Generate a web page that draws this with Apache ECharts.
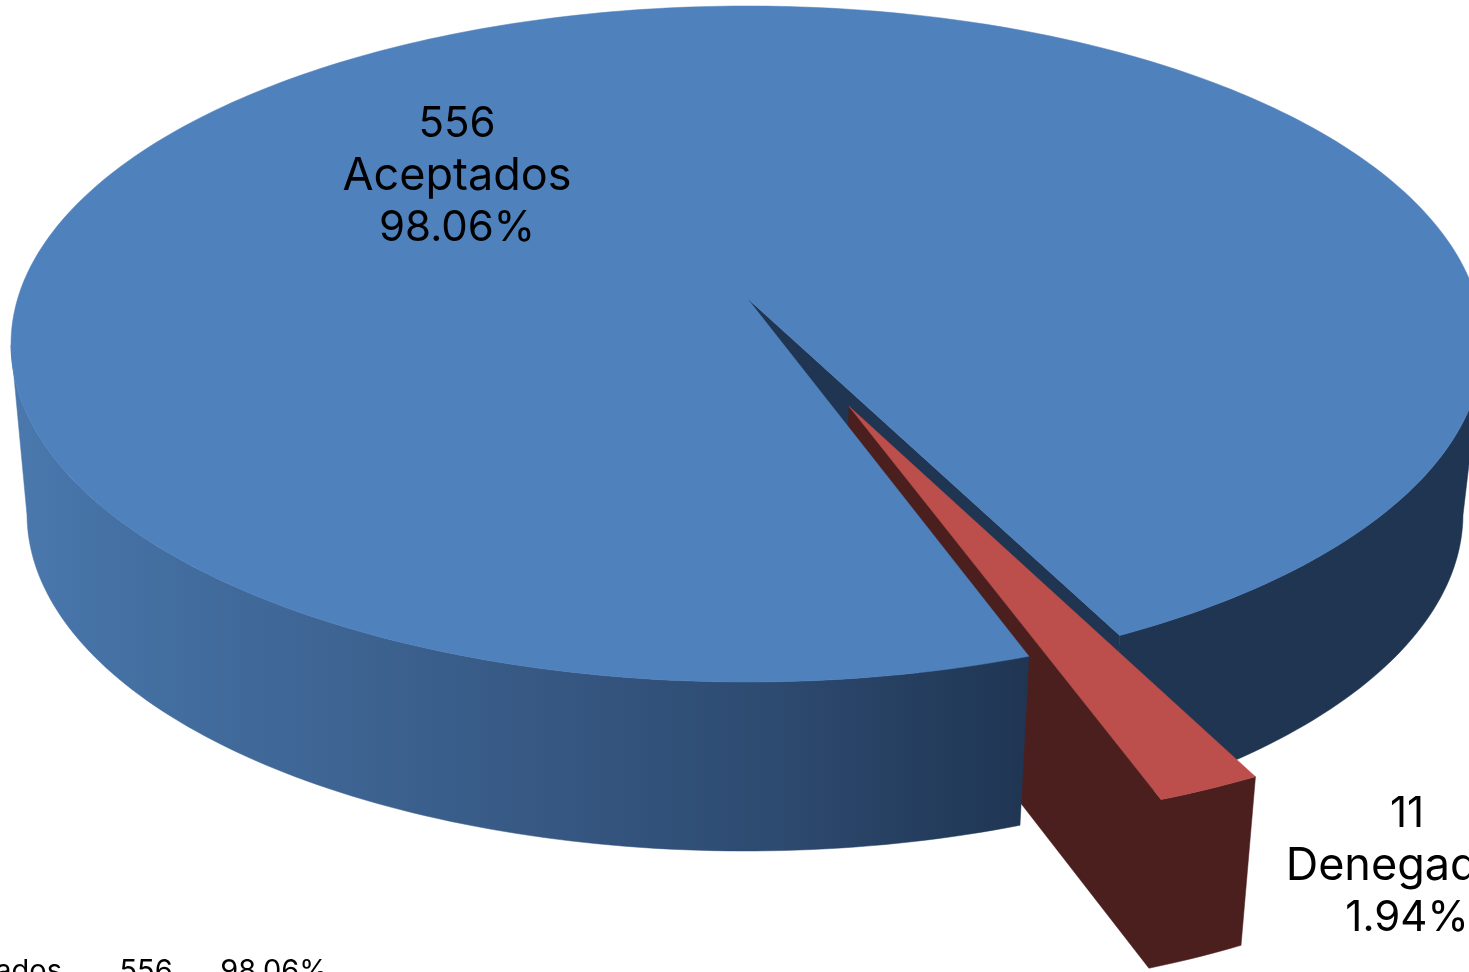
<!DOCTYPE html>
<html><head><meta charset="utf-8">
<style>html,body{margin:0;padding:0;background:#fff;overflow:hidden}#c{width:1469px;height:972px}</style>
<script src="https://cdn.jsdelivr.net/npm/echarts@6/dist/echarts.min.js"></script>
</head><body><div id="c"></div>
<script>
const categories = ['Aceptados', 'Denegados'];
const values = [556, 11];

const FONT = 'Inter, "Open Sans", sans-serif';
const topPlane = {cx: 747, cy: 344, rx: 736, ry: 338};
const bottomPlane = {cx: 745, cy: 514, rx: 718, ry: 337};
const K = -0.136;            // perspective: where the disc centre lands
const START = 70.3;          // rotation of first slice, degrees
const EXPLODE = 0.34;        // explosion of second slice
const total = values.reduce((a, b) => a + b, 0);
const pct = v => (v / total * 100).toFixed(2) + '%';

function proj(u, v, p) {
  const d = 1 + K * v;
  return [p.cx + p.rx * u * Math.sqrt(1 - K * K) / d, p.cy + p.ry * (v + K) / d];
}
function rim(a0, a1, p, off) {
  const n = Math.max(2, Math.ceil(Math.abs(a1 - a0))), pts = [];
  for (let i = 0; i <= n; i++) {
    const a = (a0 + (a1 - a0) * i / n) * Math.PI / 180;
    pts.push(proj(Math.cos(a) + off[0], Math.sin(a) + off[1], p));
  }
  return pts;
}
function poly(points, fill, z2) {
  return {type: 'polygon', z2, shape: {points}, style: {fill, stroke: fill, lineWidth: 0.5}};
}
function txt(text, x, y, size, align, vAlign, z2) {
  return {type: 'text', z2, style: {text, x, y, fill: '#000', font: `400 ${size}px ${FONT}`, align, verticalAlign: vAlign, lineHeight: 32}};
}
function label(v, name, x, y) {
  const num = {font: `400 42px ${FONT}`, fill: '#000', lineHeight: 52};
  const cat = {font: `400 45px ${FONT}`, fill: '#000', lineHeight: 52};
  return {type: 'text', z2: 10, style: {
    text: `{n|${v}}\n{c|${name}}\n{n|${pct(v)}}`, x, y, align: 'center', verticalAlign: 'middle',
    rich: {n: num, c: cat}
  }};
}

const wallGrad = new echarts.graphic.LinearGradient(20, 0, 1030, 0, [
  {offset: 0, color: '#4a78ad'},
  {offset: 0.1, color: '#4470a3'},
  {offset: 0.3, color: '#3e6594'},
  {offset: 0.55, color: '#355680'},
  {offset: 0.75, color: '#2d4a70'},
  {offset: 1, color: '#1f3552'}
], true);

function renderItem(params, api) {
  const i = params.dataIndex, v = api.value(0);
  const span = v / total * 360;
  const kids = [];
  if (i === 0) {
    const a0 = START, a1 = START + span;
    const o = [0, 0];
    kids.push(poly([proj(0, 0, topPlane), ...rim(a1, a1, topPlane, o).slice(0, 1),
                    ...rim(a1, a1, bottomPlane, o).slice(0, 1), proj(0, 0, bottomPlane)], '#1f3552', 1));
    kids.push(poly([...rim(a1, 368, topPlane, o), ...rim(368, a1, bottomPlane, o)], '#1f3552', 1));
    kids.push(poly([...rim(a0, 172, topPlane, o), ...rim(172, a0, bottomPlane, o)], wallGrad, 3));
    kids.push(poly([proj(0, 0, topPlane), ...rim(a0, a1, topPlane, o)], '#4f81bd', 4));
    kids.push(label(v, categories[i], 457, 176));
    // fragment of the data table at the bottom edge
    kids.push(txt(categories[i], 62, 955, 29, 'right', 'top', 10));
    kids.push(txt(String(v), 146, 955, 29, 'center', 'top', 10));
    kids.push(txt(pct(v), 274, 955, 29, 'center', 'top', 10));
  } else {
    const a1 = START, a0 = START - span, mid = (a0 + a1) / 2 * Math.PI / 180;
    const o = [EXPLODE * Math.cos(mid), EXPLODE * Math.sin(mid)];
    const topArc = rim(a1, a0, topPlane, o), botArc = rim(a0, a1, bottomPlane, o);
    // one outline for the cut face and the outer wall, so no seam shows between them
    kids.push(poly([proj(o[0], o[1], topPlane), ...topArc, ...botArc, proj(o[0], o[1], bottomPlane)], '#4c1f1f', 2));
    kids.push(poly([proj(o[0], o[1], topPlane), ...topArc], '#bc4f4b', 6));
    kids.push(label(v, categories[i], 1407, 866));
  }
  return {type: 'group', children: kids};
}

const chart = echarts.init(document.getElementById('c'), null, {renderer: 'canvas'});
chart.setOption({
  animation: false,
  backgroundColor: '#fff',
  series: [{
    type: 'custom',
    coordinateSystem: 'none',
    silent: true,
    clip: false,
    data: values.map(v => [v]),
    encode: {value: 0},
    renderItem
  }]
});
</script></body></html>
